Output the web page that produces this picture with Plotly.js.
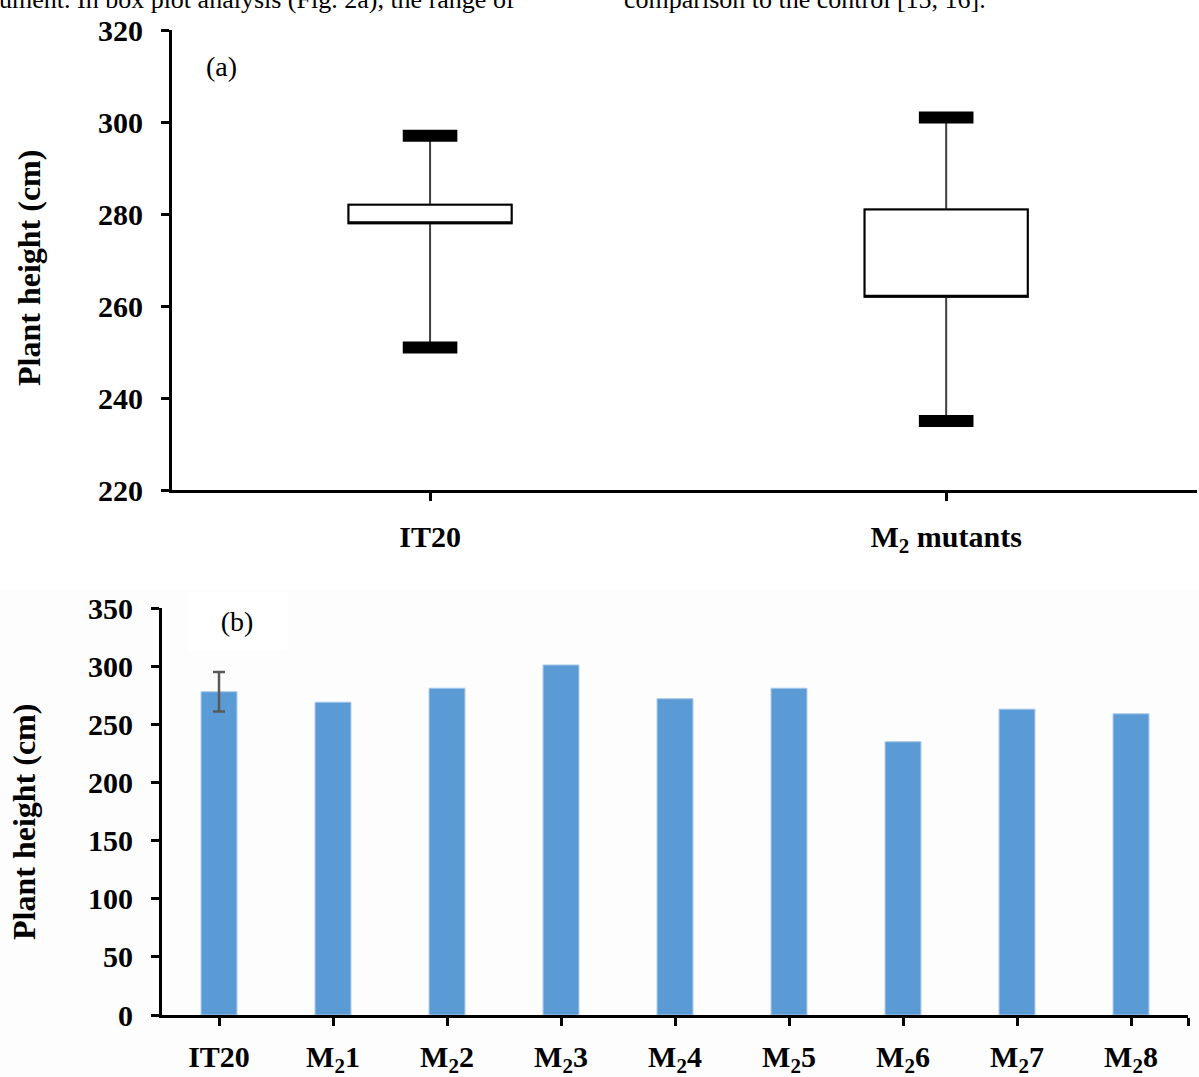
<!DOCTYPE html>
<html>
<head>
<meta charset="utf-8">
<script src="https://cdn.plot.ly/plotly-3.0.1.min.js"></script>
<style>
html,body{margin:0;padding:0;background:#ffffff;}
#chart{width:1199px;height:1077px;}
</style>
</head>
<body>
<div id="chart"></div>
<script>
// ---- Panel (a): box plot summary ----
const boxCats = ['IT20', 'M<sub>2</sub> mutants'];
const boxMin = [251, 235];
const boxQ1 = [278, 262];
const boxMedian = [278, 262];
const boxQ3 = [282, 281];
const boxMax = [297, 301];

// ---- Panel (b): bar chart ----
const barCats = ['IT20', 'M<sub>2</sub>1', 'M<sub>2</sub>2', 'M<sub>2</sub>3', 'M<sub>2</sub>4',
                 'M<sub>2</sub>5', 'M<sub>2</sub>6', 'M<sub>2</sub>7', 'M<sub>2</sub>8'];
const barHeights = [278, 269, 281, 301, 272, 281, 235, 263, 259];
const barErr = [17, null, null, null, null, null, null, null, null];

// ---- helpers ----
const W = 1199, H = 1077;
const px = v => v / W;
const py = v => 1 - v / H;
const SERIF = 'Liberation Serif';

const boxIdx = boxCats.map((_, i) => i);
const barIdx = barCats.map((_, i) => i);

const traces = [
  { // whiskers (grey)
    type: 'box', xaxis: 'x', yaxis: 'y',
    x: boxIdx, q1: boxQ1, median: boxMedian, q3: boxQ3,
    lowerfence: boxMin, upperfence: boxMax,
    width: 0.316, whiskerwidth: 0,
    line: {color: '#404040', width: 2}, fillcolor: '#ffffff',
    hoverinfo: 'skip', showlegend: false
  },
  { // box body (black outline)
    type: 'box', xaxis: 'x', yaxis: 'y',
    x: boxIdx, q1: boxQ1, median: boxMedian, q3: boxQ3,
    lowerfence: boxQ1, upperfence: boxQ3,
    width: 0.316, whiskerwidth: 0,
    line: {color: '#000000', width: 2}, fillcolor: '#ffffff',
    hoverinfo: 'skip', showlegend: false
  },
  { // thick whisker caps
    type: 'scatter', mode: 'markers', xaxis: 'x', yaxis: 'y',
    x: boxIdx.concat(boxIdx), y: boxMax.concat(boxMin),
    marker: {symbol: 'line-ew', size: 39, line: {width: 12, color: '#000000'}},
    hoverinfo: 'skip', showlegend: false
  },
  { // bars
    type: 'bar', xaxis: 'x2', yaxis: 'y2',
    x: barIdx, y: barHeights, width: 0.315,
    marker: {color: '#5B9BD5', line: {color: '#A8C8EA', width: 1}},
    error_y: {type: 'data', visible: true,
              array: barErr.map(v => v == null ? NaN : v),
              color: '#595959', thickness: 2.5, width: 6},
    hoverinfo: 'skip', showlegend: false
  }
];

const tickFont = {family: SERIF, size: 30, weight: 'bold', color: '#000000'};
const axisCommon = {
  showline: true, linecolor: '#000000', linewidth: 3,
  ticks: 'outside', ticklen: 8, tickwidth: 3, tickcolor: '#000000',
  showgrid: false, zeroline: false, fixedrange: true, automargin: false,
  tickfont: tickFont
};

const layout = {
  width: W, height: H,
  margin: {l: 0, r: 0, t: 0, b: 0},
  paper_bgcolor: '#ffffff', plot_bgcolor: 'rgba(0,0,0,0)',
  font: {family: SERIF},
  boxmode: 'overlay', bargap: 0,
  showlegend: false,
  xaxis: Object.assign({}, axisCommon, {
    domain: [px(172), px(1197)], range: [-0.5, 1.486], anchor: 'y',
    tickmode: 'array', tickvals: boxIdx, ticktext: boxCats, ticklabelstandoff: 10
  }),
  yaxis: Object.assign({}, axisCommon, {
    domain: [py(490), py(30)], range: [220, 320], anchor: 'x',
    tick0: 220, dtick: 20, ticklabelstandoff: 12
  }),
  xaxis2: Object.assign({}, axisCommon, {
    domain: [px(162), px(1188)], range: [-0.5, 8.5], anchor: 'y2',
    tickmode: 'array', tickvals: barIdx.concat([8.5]), ticktext: barCats.concat(['']),
    ticklabelstandoff: 5
  }),
  yaxis2: Object.assign({}, axisCommon, {
    domain: [py(1015), py(608)], range: [0, 350], anchor: 'x2',
    tick0: 0, dtick: 50, ticklabelstandoff: 12
  }),
  shapes: [
    {type: 'rect', xref: 'paper', yref: 'paper', x0: -0.01, x1: 1.01, y0: -0.01, y1: py(589),
     fillcolor: '#FCFDFC', line: {width: 0}, layer: 'below'}
  ],
  annotations: [
    {xref: 'paper', yref: 'paper', x: px(29), y: py(268), text: 'Plant height (cm)',
     textangle: -90, showarrow: false, xanchor: 'center', yanchor: 'middle',
     font: {family: SERIF, size: 32, weight: 'bold', color: '#000000'}},
    {xref: 'paper', yref: 'paper', x: px(24), y: py(822), text: 'Plant height (cm)',
     textangle: -90, showarrow: false, xanchor: 'center', yanchor: 'middle',
     font: {family: SERIF, size: 32, weight: 'bold', color: '#000000'}},
    {xref: 'paper', yref: 'paper', x: px(222), y: py(67), text: '(a)',
     showarrow: false, xanchor: 'center', yanchor: 'middle',
     font: {family: SERIF, size: 28, color: '#000000'}},
    {xref: 'paper', yref: 'paper', x: px(237), y: py(621), text: '(b)',
     showarrow: false, xanchor: 'center', yanchor: 'middle',
     bgcolor: '#ffffff', width: 96, height: 55,
     font: {family: SERIF, size: 28, color: '#000000'}},
    {xref: 'paper', yref: 'paper', x: px(-3), y: py(-1), text: 'ument. In box plot analysis (Fig. 2a), the range of',
     showarrow: false, xanchor: 'left', yanchor: 'middle',
     font: {family: SERIF, size: 26, color: '#000000'}},
    {xref: 'paper', yref: 'paper', x: px(622), y: py(-1), text: 'comparison to the control [15, 16].',
     showarrow: false, xanchor: 'left', yanchor: 'middle',
     font: {family: SERIF, size: 26, color: '#000000'}}
  ]
};

Plotly.newPlot('chart', traces, layout, {staticPlot: true, displayModeBar: false});
</script>
</body>
</html>
